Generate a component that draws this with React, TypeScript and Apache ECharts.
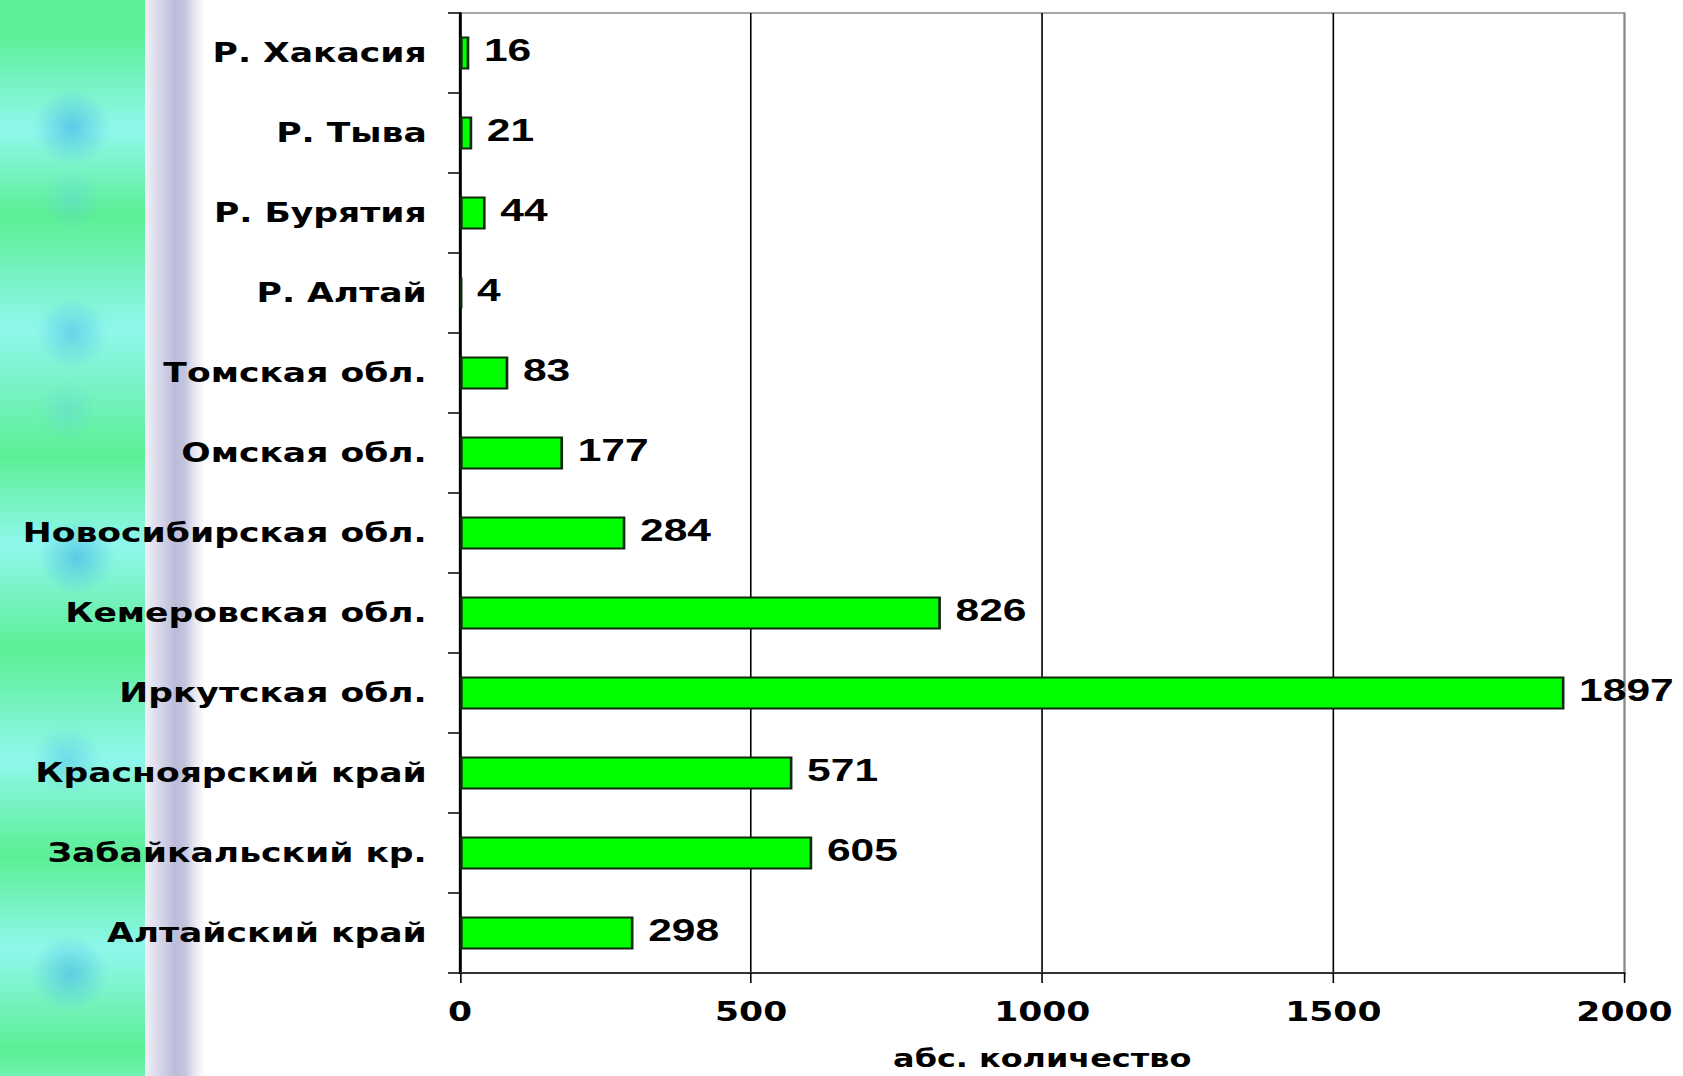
import React, { useEffect, useRef } from "react";
import * as echarts from "echarts";

// Data (top to bottom as shown)
const categories = [
  "Р. Хакасия",
  "Р. Тыва",
  "Р. Бурятия",
  "Р. Алтай",
  "Томская обл.",
  "Омская обл.",
  "Новосибирская обл.",
  "Кемеровская обл.",
  "Иркутская обл.",
  "Красноярский край",
  "Забайкальский кр.",
  "Алтайский край",
];
const values = [16, 21, 44, 4, 83, 177, 284, 826, 1897, 571, 605, 298];
const xMin = 0;
const xMax = 2000;
const xStep = 500;
const axisName = "абс. количество";

const W = 1683;
const H = 1076;
const S = 1.33; // horizontal stretch of the original picture

const stripBg = [
  "radial-gradient(circle at 72px 127px, rgba(70,185,230,0.7) 0px, rgba(70,185,230,0) 38px)",
  "radial-gradient(circle at 72px 200px, rgba(90,200,230,0.35) 0px, rgba(90,200,230,0) 30px)",
  "radial-gradient(circle at 72px 333px, rgba(70,185,230,0.55) 0px, rgba(70,185,230,0) 36px)",
  "radial-gradient(circle at 67px 410px, rgba(90,200,230,0.3) 0px, rgba(90,200,230,0) 30px)",
  "radial-gradient(circle at 77px 557px, rgba(70,185,230,0.7) 0px, rgba(70,185,230,0) 38px)",
  "radial-gradient(circle at 67px 760px, rgba(70,185,230,0.45) 0px, rgba(70,185,230,0) 34px)",
  "radial-gradient(circle at 70px 973px, rgba(70,185,230,0.65) 0px, rgba(70,185,230,0) 38px)",
  "linear-gradient(to bottom, #5cef95 0px, #5cef95 30px, #8ff7ec 130px, #5cef95 215px, #8ff7ec 330px, #5cef95 455px, #8ff7ec 545px, #5cef95 650px, #8ff7ec 760px, #5cef95 855px, #8ff7ec 950px, #5cef95 1050px, #6ff2b0 1076px)",
].join(",");

const bandBg =
  "linear-gradient(to right, #f0f0f7 0px, #d8d8ea 14px, #bcbcda 30px, #c4c4de 40px, #e8e8f3 50px, #ffffff 60px)";

export default function App() {
  const ref = useRef<HTMLDivElement>(null);

  useEffect(() => {
    if (!ref.current) return;
    const chart = echarts.init(ref.current, undefined, { renderer: "svg" });
    chart.setOption({
      animation: false,
      grid: {
        left: 460 / S,
        right: 58 / S,
        top: 13,
        bottom: 102.5,
        show: true,
        borderColor: "#8a8a8a",
        borderWidth: 1.5,
        backgroundColor: "transparent",
      },
      xAxis: {
        type: "value",
        min: xMin,
        max: xMax,
        interval: xStep,
        axisLine: { show: true, lineStyle: { color: "#333", width: 2 } },
        axisTick: { show: true, length: 10, lineStyle: { color: "#000", width: 1.2 } },
        axisLabel: {
          fontFamily: "DejaVu Sans",
          fontWeight: "bold",
          fontSize: 26,
          color: "#000",
          margin: 26,
          formatter: (v: number) => String(v),
        },
        splitLine: {
          show: true,
          lineStyle: { color: ["#000", "#000", "#000", "#000", "#8a8a8a"], width: 1.2 },
        },
        name: axisName,
        nameLocation: "middle",
        nameGap: 74,
        nameTextStyle: {
          fontFamily: "DejaVu Sans",
          fontWeight: "bold",
          fontSize: 24,
          color: "#000",
        },
      },
      yAxis: {
        type: "category",
        data: categories,
        inverse: true,
        axisLine: { show: true, lineStyle: { color: "#000", width: 2 } },
        axisTick: { show: true, length: 9, lineStyle: { color: "#000", width: 1.5 } },
        axisLabel: {
          interval: 0,
          fontFamily: "DejaVu Sans",
          fontWeight: "bold",
          fontSize: 26,
          color: "#000",
          margin: 25,
        },
        splitLine: { show: false },
      },
      series: [
        {
          type: "bar",
          data: values,
          barWidth: 33,
          itemStyle: { color: "#00ff00", borderColor: "#0f2a0f", borderWidth: 2 },
          label: {
            show: true,
            position: "right",
            distance: 11,
            fontFamily: "Liberation Sans",
            fontWeight: "bold",
            fontSize: 32,
            color: "#000",
            offset: [0, -3],
          },
        },
      ],
    });
    return () => chart.dispose();
  }, []);

  return (
    <div
      style={{
        position: "fixed",
        left: 0,
        top: 0,
        width: W,
        height: H,
        background: "#ffffff",
        overflow: "hidden",
      }}
    >
      <div
        style={{ position: "absolute", left: 0, top: 0, width: 145, height: H, background: stripBg }}
      />
      <div
        style={{ position: "absolute", left: 145, top: 0, width: 60, height: H, background: bandBg }}
      />
      <div
        ref={ref}
        style={{
          position: "absolute",
          left: 0,
          top: 0,
          width: W / S,
          height: H,
          transform: `scaleX(${S})`,
          transformOrigin: "0 0",
        }}
      />
    </div>
  );
}
